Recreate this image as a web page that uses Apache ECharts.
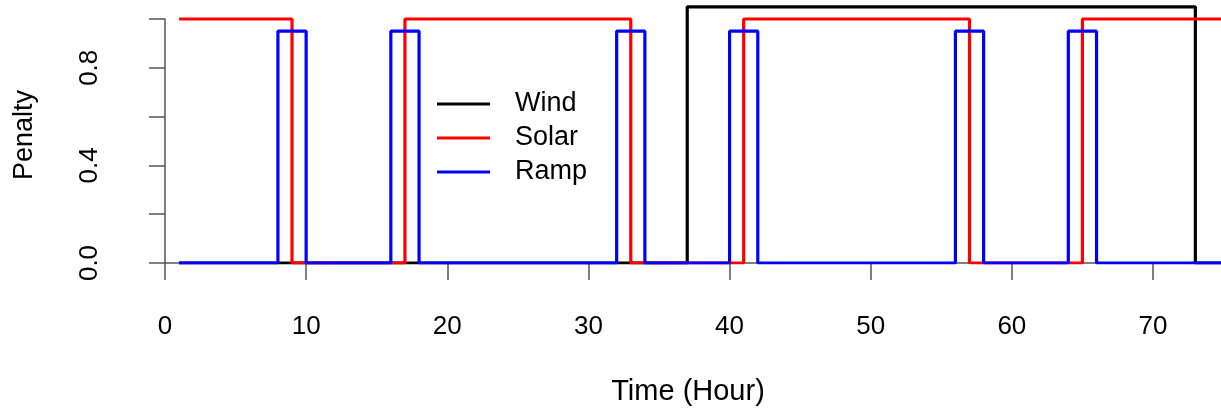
<!DOCTYPE html>
<html>
<head>
<meta charset="utf-8">
<script src="https://cdn.jsdelivr.net/npm/echarts@6/dist/echarts.min.js"></script>
<style>
html,body{margin:0;padding:0;background:#fff;}
#chart{width:1221px;height:413px;}
</style>
</head>
<body>
<div id="chart"></div>
<script>
const hours = [1,2,3,4,5,6,7,8,9,10,11,12,13,14,15,16,17,18,19,20,21,22,23,24,25,26,27,28,29,30,31,32,33,34,35,36,37,38,39,40,41,42,43,44,45,46,47,48,49,50,51,52,53,54,55,56,57,58,59,60,61,62,63,64,65,66,67,68,69,70,71,72,73,74,75,76];
const wind = [0,0,0,0,0,0,0,0,0,0,0,0,0,0,0,0,0,0,0,0,0,0,0,0,0,0,0,0,0,0,0,0,0,0,0,0,1.05,1.05,1.05,1.05,1.05,1.05,1.05,1.05,1.05,1.05,1.05,1.05,1.05,1.05,1.05,1.05,1.05,1.05,1.05,1.05,1.05,1.05,1.05,1.05,1.05,1.05,1.05,1.05,1.05,1.05,1.05,1.05,1.05,1.05,1.05,1.05,0,0,0,0];
const solar = [1,1,1,1,1,1,1,1,0,0,0,0,0,0,0,0,1,1,1,1,1,1,1,1,1,1,1,1,1,1,1,1,0,0,0,0,0,0,0,0,1,1,1,1,1,1,1,1,1,1,1,1,1,1,1,1,0,0,0,0,0,0,0,0,1,1,1,1,1,1,1,1,1,1,1,1];
const ramp = [0,0,0,0,0,0,0,0.95,0.95,0,0,0,0,0,0,0.95,0.95,0,0,0,0,0,0,0,0,0,0,0,0,0,0,0.95,0.95,0,0,0,0,0,0,0.95,0.95,0,0,0,0,0,0,0,0,0,0,0,0,0,0,0.95,0.95,0,0,0,0,0,0,0.95,0.95,0,0,0,0,0,0,0,0,0,0,0];
const xTicks = [0,10,20,30,40,50,60,70];
const yTicks = [0,0.2,0.4,0.6,0.8,1.0];
const yLabelled = ['0.0','0.4','0.8'];

const FONT = '"Liberation Sans", Arial, sans-serif';
const pair = arr => hours.map((h, i) => [h, arr[i]]);

// pixel geometry of the R plot (axis 0..70 -> 165..1153, 0..1 -> 263..19)
const X0 = 165, X70 = 1153, Y0 = 263, Y1 = 19, W = 1221;
const pxPerX = (X70 - X0) / 70;
const pxPerY = (Y0 - Y1) / 1;
const dataXMin = -(X0 - 137) / pxPerX;
const dataXMax = dataXMin + (W - 137) / pxPerX;
const dataYMax = Y0 / pxPerY;

const chart = echarts.init(document.getElementById('chart'), null, {renderer: 'canvas'});
const axisLineStyle = {color: '#555', width: 1.5};
const mkSeries = (name, data, color) => ({
  name, type: 'line', step: 'end', data: pair(data),
  xAxisIndex: 0, yAxisIndex: 0,
  symbol: 'none', animation: false,
  lineStyle: {color, width: 3.2}, itemStyle: {color}
});
chart.setOption({
  animation: false,
  grid: [
    {left: 137, right: 0, top: 0, bottom: 413 - Y0, containLabel: false},
    {left: X0, right: W - X70, top: Y1, bottom: 413 - Y0, containLabel: false}
  ],
  legend: {
    orient: 'vertical', left: 432, top: 82,
    icon: 'rect', itemWidth: 53, itemHeight: 3, itemGap: 0,
    textStyle: {fontFamily: FONT, fontSize: 27, color: '#000', lineHeight: 34, padding: [0, 0, 0, 20]},
    data: ['Wind', 'Solar', 'Ramp']
  },
  xAxis: [
    {
      gridIndex: 0, type: 'value', min: dataXMin, max: dataXMax,
      axisLine: {show: false}, axisTick: {show: false}, axisLabel: {show: false}, splitLine: {show: false}
    },
    {
      gridIndex: 1, type: 'value', min: xTicks[0], max: xTicks[xTicks.length - 1], interval: 10,
      offset: 10,
      name: 'Time (Hour)', nameLocation: 'middle', nameGap: 104,
      nameTextStyle: {fontFamily: FONT, fontSize: 29, color: '#000', padding: [0, 0, 0, 58]},
      axisLine: {show: true, lineStyle: axisLineStyle},
      axisTick: {show: true, length: 17, lineStyle: axisLineStyle},
      axisLabel: {fontFamily: FONT, fontSize: 26, color: '#000', margin: 41,
        formatter: v => xTicks.includes(v) ? String(v) : ''},
      splitLine: {show: false}
    }
  ],
  yAxis: [
    {
      gridIndex: 0, type: 'value', min: 0, max: dataYMax,
      axisLine: {show: false}, axisTick: {show: false}, axisLabel: {show: false}, splitLine: {show: false}
    },
    {
      gridIndex: 1, type: 'value', min: yTicks[0], max: yTicks[yTicks.length - 1], interval: 0.2,
      offset: 27,
      name: 'Penalty', nameLocation: 'middle', nameGap: 100, nameRotate: 90,
      nameTextStyle: {fontFamily: FONT, fontSize: 27, color: '#000', padding: [0, 0, 0, 12]},
      axisLine: {show: true, lineStyle: axisLineStyle},
      axisTick: {show: true, length: 16, lineStyle: axisLineStyle},
      axisLabel: {fontFamily: FONT, fontSize: 26, color: '#000', margin: 35, rotate: 90,
        formatter: v => { const s = v.toFixed(1); return yLabelled.includes(s) ? s : ''; }},
      splitLine: {show: false}
    }
  ],
  series: [
    mkSeries('Wind', wind, '#000000'),
    mkSeries('Solar', solar, '#FF0000'),
    mkSeries('Ramp', ramp, '#0000FF')
  ]
});
</script>
</body>
</html>
